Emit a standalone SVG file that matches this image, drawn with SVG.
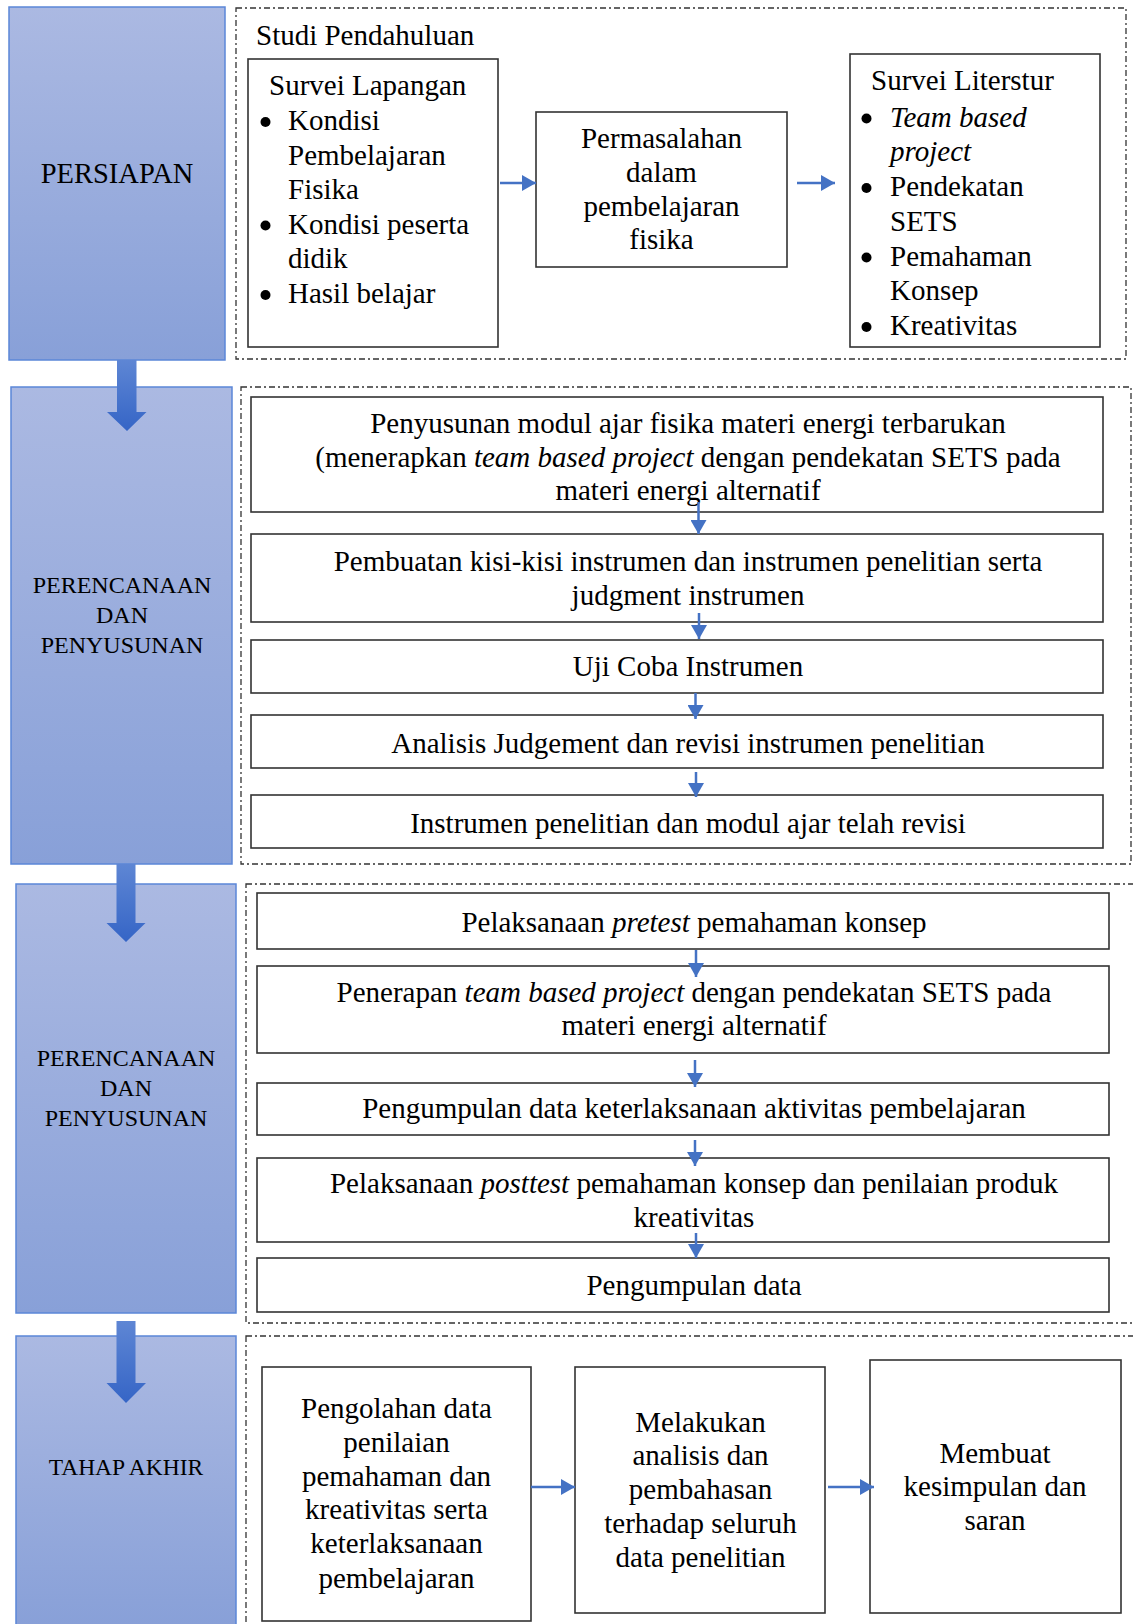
<svg xmlns="http://www.w3.org/2000/svg" width="1133" height="1624" viewBox="0 0 1133 1624">
<defs>
<linearGradient id="phase" x1="0" y1="0" x2="0" y2="1">
<stop offset="0" stop-color="#ABB9E2"/>
<stop offset="1" stop-color="#88A0D8"/>
</linearGradient>
<linearGradient id="blk" x1="0" y1="0" x2="0" y2="1">
<stop offset="0" stop-color="#5E86D4"/>
<stop offset="1" stop-color="#3565C6"/>
</linearGradient>
<marker id="ah" viewBox="0 0 14 16" refX="14" refY="8" markerWidth="14" markerHeight="16" markerUnits="userSpaceOnUse" orient="auto">
<path d="M0,0 L14,8 L0,16 Z" fill="#4472C4"/>
</marker>
<style>
.phase{fill:url(#phase);stroke:#5B87D8;stroke-width:1.5}
.dash{fill:none;stroke:#333;stroke-width:1.3;stroke-dasharray:6 3 2 3}
.box{fill:#fff;stroke:#333;stroke-width:1.6}
.t{font-family:"Liberation Serif","Times New Roman",serif;font-size:29px;fill:#000}
.c{text-anchor:middle}
.p{font-family:"Liberation Serif","Times New Roman",serif;font-size:24px;fill:#000;text-anchor:middle}
.i{font-style:italic}
.con{stroke:#4472C4;stroke-width:2.5;fill:none;marker-end:url(#ah)}
.blk{fill:url(#blk)}
</style>
</defs>

<g id="phase-persiapan">
<rect class="phase" x="9" y="7" width="216" height="353"/>
<text class="p" x="117" y="183" style="font-size:28.5px">PERSIAPAN</text>
</g>
<g id="phase-perencanaan-1">
<rect class="phase" x="11" y="387" width="221" height="477"/>
<text class="p" x="122" y="593">PERENCANAAN</text>
<text class="p" x="122" y="623">DAN</text>
<text class="p" x="122" y="653">PENYUSUNAN</text>
</g>
<g id="phase-perencanaan-2">
<rect class="phase" x="16" y="884" width="220" height="429"/>
<text class="p" x="126" y="1066">PERENCANAAN</text>
<text class="p" x="126" y="1096">DAN</text>
<text class="p" x="126" y="1126">PENYUSUNAN</text>
</g>
<g id="phase-tahap-akhir">
<rect class="phase" x="16" y="1336" width="220" height="290"/>
<text class="p" x="126" y="1475" style="font-size:23.5px">TAHAP AKHIR</text>
</g>

<g id="group-studi">
<rect class="dash" x="236" y="8" width="890" height="351"/>
<text class="t" x="256" y="45">Studi Pendahuluan</text>
</g>
<g id="group-perencanaan-1">
<rect class="dash" x="241" y="387" width="890" height="477"/>
</g>
<g id="group-perencanaan-2">
<rect class="dash" x="246" y="884" width="900" height="439"/>
</g>
<g id="group-akhir">
<rect class="dash" x="246" y="1336" width="900" height="300"/>
</g>

<g id="node-survei-lapangan">
<rect class="box" x="248" y="59" width="250" height="288"/>
<text class="t" x="269" y="95">Survei Lapangan</text>
<circle cx="265.5" cy="122" r="5"/>
<circle cx="265.5" cy="225.5" r="5"/>
<circle cx="265.5" cy="295" r="5"/>
<text class="t" x="288" y="130">Kondisi</text>
<text class="t" x="288" y="164.5">Pembelajaran</text>
<text class="t" x="288" y="199">Fisika</text>
<text class="t" x="288" y="233.5">Kondisi peserta</text>
<text class="t" x="288" y="268">didik</text>
<text class="t" x="288" y="303">Hasil belajar</text>
</g>
<g id="node-permasalahan">
<rect class="box" x="536" y="112" width="251" height="155"/>
<text class="t c" x="661.5" y="148">Permasalahan</text>
<text class="t c" x="661.5" y="182">dalam</text>
<text class="t c" x="661.5" y="215.5">pembelajaran</text>
<text class="t c" x="661.5" y="249">fisika</text>
</g>
<g id="node-survei-literstur">
<rect class="box" x="850" y="54" width="250" height="293"/>
<text class="t" x="871" y="90">Survei Literstur</text>
<circle cx="866.5" cy="118.5" r="5"/>
<circle cx="866.5" cy="188" r="5"/>
<circle cx="866.5" cy="257.5" r="5"/>
<circle cx="866.5" cy="327" r="5"/>
<text class="t i" x="890" y="126.5">Team based</text>
<text class="t i" x="890" y="161">project</text>
<text class="t" x="890" y="196">Pendekatan</text>
<text class="t" x="890" y="230.5">SETS</text>
<text class="t" x="890" y="265.5">Pemahaman</text>
<text class="t" x="890" y="300">Konsep</text>
<text class="t" x="890" y="335">Kreativitas</text>
</g>

<g id="node-penyusunan-modul">
<rect class="box" x="251" y="397" width="852" height="115"/>
<text class="t c" x="688" y="433">Penyusunan modul ajar fisika materi energi terbarukan</text>
<text class="t c" x="688" y="467">(menerapkan <tspan class="i">team based project</tspan> dengan pendekatan SETS pada</text>
<text class="t c" x="688" y="500">materi energi alternatif</text>
</g>
<g id="node-kisi-kisi">
<rect class="box" x="251" y="534" width="852" height="88"/>
<text class="t c" x="688" y="571">Pembuatan kisi-kisi instrumen dan instrumen penelitian serta</text>
<text class="t c" x="688" y="605">judgment instrumen</text>
</g>
<g id="node-uji-coba">
<rect class="box" x="251" y="640" width="852" height="53"/>
<text class="t c" x="688" y="676">Uji Coba Instrumen</text>
</g>
<g id="node-analisis-judgement">
<rect class="box" x="251" y="715" width="852" height="53"/>
<text class="t c" x="688" y="752.5">Analisis Judgement dan revisi instrumen penelitian</text>
</g>
<g id="node-instrumen-revisi">
<rect class="box" x="251" y="795" width="852" height="53"/>
<text class="t c" x="688" y="832.5">Instrumen penelitian dan modul ajar telah revisi</text>
</g>

<g id="node-pretest">
<rect class="box" x="257" y="893" width="852" height="56"/>
<text class="t c" x="694" y="931.5">Pelaksanaan <tspan class="i">pretest</tspan> pemahaman konsep</text>
</g>
<g id="node-penerapan">
<rect class="box" x="257" y="966" width="852" height="87"/>
<text class="t c" x="694" y="1001.5">Penerapan <tspan class="i">team based project</tspan> dengan pendekatan SETS pada</text>
<text class="t c" x="694" y="1035">materi energi alternatif</text>
</g>
<g id="node-keterlaksanaan">
<rect class="box" x="257" y="1083" width="852" height="52"/>
<text class="t c" x="694" y="1118">Pengumpulan data keterlaksanaan aktivitas pembelajaran</text>
</g>
<g id="node-posttest">
<rect class="box" x="257" y="1158" width="852" height="84"/>
<text class="t c" x="694" y="1193">Pelaksanaan <tspan class="i">posttest</tspan> pemahaman konsep dan penilaian produk</text>
<text class="t c" x="694" y="1227">kreativitas</text>
</g>
<g id="node-pengumpulan-data">
<rect class="box" x="257" y="1258" width="852" height="54"/>
<text class="t c" x="694" y="1295">Pengumpulan data</text>
</g>

<g id="node-pengolahan">
<rect class="box" x="262" y="1367" width="269" height="254"/>
<text class="t c" x="396.5" y="1418">Pengolahan data</text>
<text class="t c" x="396.5" y="1452">penilaian</text>
<text class="t c" x="396.5" y="1485.5">pemahaman dan</text>
<text class="t c" x="396.5" y="1519">kreativitas serta</text>
<text class="t c" x="396.5" y="1553">keterlaksanaan</text>
<text class="t c" x="396.5" y="1587.5">pembelajaran</text>
</g>
<g id="node-analisis">
<rect class="box" x="575" y="1367" width="250" height="246"/>
<text class="t c" x="700.5" y="1431.5">Melakukan</text>
<text class="t c" x="700.5" y="1465">analisis dan</text>
<text class="t c" x="700.5" y="1499">pembahasan</text>
<text class="t c" x="700.5" y="1533">terhadap seluruh</text>
<text class="t c" x="700.5" y="1567">data penelitian</text>
</g>
<g id="node-kesimpulan">
<rect class="box" x="870" y="1360" width="251" height="253"/>
<text class="t c" x="995" y="1462.5">Membuat</text>
<text class="t c" x="995" y="1496">kesimpulan dan</text>
<text class="t c" x="995" y="1530">saran</text>
</g>

<g id="connectors">
<path class="blk" d="M117,360 H136.5 V412 H146.5 L127,431 L107,412 H117 Z"/>
<path class="blk" d="M116.5,864 H135.5 V923 H145.5 L126,942 L106.5,923 H116.5 Z"/>
<path class="blk" d="M116.5,1321 H135.5 V1383 H146 L126,1403 L106.5,1383 H116.5 Z"/>
<line class="con" x1="500" y1="183" x2="536" y2="183"/>
<line class="con" x1="797" y1="183" x2="835" y2="183"/>
<line class="con" x1="698.5" y1="502" x2="698.5" y2="534"/>
<line class="con" x1="699" y1="613" x2="699" y2="639"/>
<line class="con" x1="695.5" y1="693" x2="695.5" y2="719"/>
<line class="con" x1="696" y1="772" x2="696" y2="797"/>
<line class="con" x1="696" y1="950" x2="696" y2="977"/>
<line class="con" x1="695" y1="1060" x2="695" y2="1087"/>
<line class="con" x1="695" y1="1140" x2="695" y2="1166"/>
<line class="con" x1="696" y1="1233" x2="696" y2="1258"/>
<line class="con" x1="531" y1="1487" x2="575" y2="1487"/>
<line class="con" x1="828" y1="1487" x2="874" y2="1487"/>
</g>
</svg>
